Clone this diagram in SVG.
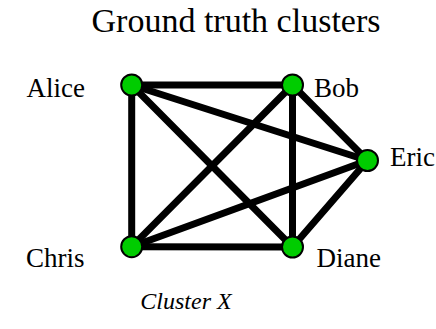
<svg xmlns="http://www.w3.org/2000/svg" width="436" height="329" viewBox="0 0 436 329">
<style>
.e{stroke:#000;stroke-width:7;stroke-linecap:round}
.n{fill:#00cc00;stroke:#000;stroke-width:2}
.t{font-family:"Liberation Serif","Times New Roman",Times,"DejaVu Serif",serif;fill:#000}
.l{font-size:27px}
</style>
<rect width="436" height="329" fill="#fff"/>
<text class="t" x="236" y="32" text-anchor="middle" font-size="34">Ground truth clusters</text>
<g id="edges">
<line class="e" x1="131.7" y1="85" x2="292.5" y2="85"/>
<line class="e" x1="131.7" y1="85" x2="131.7" y2="246.7"/>
<line class="e" x1="131.7" y1="85" x2="292.5" y2="247"/>
<line class="e" x1="131.7" y1="85" x2="367.5" y2="160.5"/>
<line class="e" x1="292.5" y1="85" x2="131.7" y2="246.7"/>
<line class="e" x1="292.5" y1="85" x2="292.5" y2="247"/>
<line class="e" x1="292.5" y1="85" x2="367.5" y2="160.5"/>
<line class="e" x1="131.7" y1="246.7" x2="292.5" y2="247"/>
<line class="e" x1="131.7" y1="246.7" x2="367.5" y2="160.5"/>
<line class="e" x1="292.5" y1="247" x2="367.5" y2="160.5"/>
</g>
<g id="alice"><circle class="n" cx="131.7" cy="85" r="10.5"/><text class="t l" x="85" y="96.5" text-anchor="end">Alice</text></g>
<g id="bob"><circle class="n" cx="292.5" cy="85" r="10.5"/><text class="t l" x="314" y="96.5">Bob</text></g>
<g id="eric"><circle class="n" cx="367.5" cy="160.5" r="10.5"/><text class="t l" x="390" y="165.5">Eric</text></g>
<g id="chris"><circle class="n" cx="131.7" cy="246.7" r="10.5"/><text class="t l" x="26" y="267">Chris</text></g>
<g id="diane"><circle class="n" cx="292.5" cy="247" r="10.5"/><text class="t l" x="316.5" y="267">Diane</text></g>
<text class="t" x="186" y="309" text-anchor="middle" font-size="24" font-style="italic">Cluster X</text>
</svg>
